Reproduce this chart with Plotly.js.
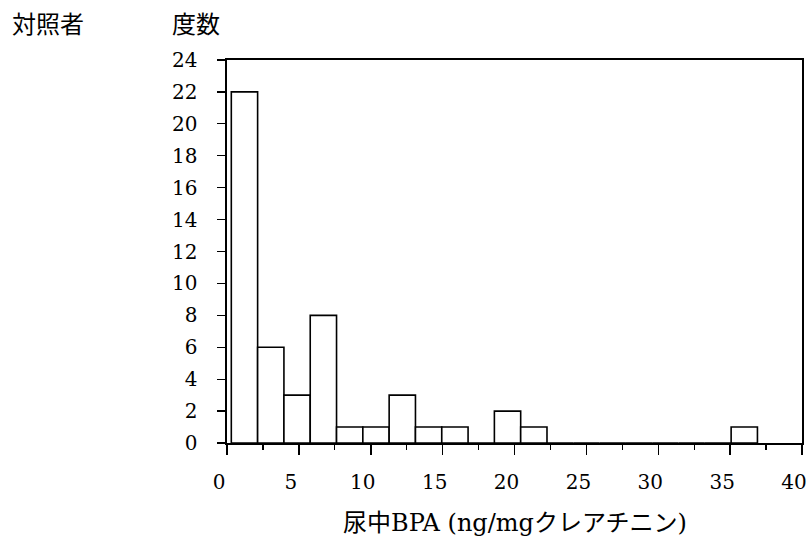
<!DOCTYPE html>
<html>
<head>
<meta charset="utf-8">
<script src="https://cdn.plot.ly/plotly-3.0.1.min.js"></script>
<style>html,body{margin:0;padding:0;background:#fff;}#chart{width:811px;height:551px;}</style>
</head>
<body>
<div id="chart"></div>
<script>
// Histogram of urinary BPA among controls (対照者)
const counts = [22, 6, 3, 8, 1, 1, 3, 1, 1, 0, 2, 1, 0, 0, 0, 0, 0, 0, 0, 1];
const binStart = 0.3;
const binWidth = 1.83;
const xTickVals = [0, 5, 10, 15, 20, 25, 30, 35, 40];
const yTickVals = [0, 2, 4, 6, 8, 10, 12, 14, 16, 18, 20, 22, 24];
const groupLabel = "対照者";
const yLabel = "度数";
const xLabel = "尿中BPA (ng/mgクレアチニン)";

const centers = counts.map((c, i) => binStart + binWidth * (i + 0.5));

const serif = "DejaVu Serif, Liberation Serif, Noto Sans CJK JP, serif";
const gothic = "Noto Sans CJK JP, sans-serif";

const bars = {
  type: "bar",
  x: centers,
  y: counts,
  width: counts.map(() => binWidth),
  marker: {color: "#ffffff", line: {color: "#000000", width: 1.6}},
  hoverinfo: "skip"
};

const layout = {
  width: 811, height: 551,
  margin: {l: 227, r: 9, t: 60, b: 108, pad: 0},
  paper_bgcolor: "#ffffff", plot_bgcolor: "#ffffff",
  showlegend: false,
  bargap: 0,
  xaxis: {
    range: [0, 40], tickvals: xTickVals, ticktext: xTickVals.map(String),
    ticks: "outside", ticklen: 10, tickwidth: 1.5, tickcolor: "#000",
    minor: {dtick: 2.5, tick0: 0, ticks: "outside", ticklen: 5, tickwidth: 1.2, tickcolor: "#000", showgrid: false},
    showline: true, linecolor: "#000", linewidth: 1.6, mirror: true,
    showgrid: false, zeroline: false, fixedrange: true,
    tickfont: {family: serif, size: 20, color: "#000"},
    ticklabelstandoff: 10,
    ticklabelshift: -8,
    ticklabeloverflow: "allow"
  },
  yaxis: {
    range: [0, 24], tickvals: yTickVals, ticktext: yTickVals.map(String),
    ticks: "outside", ticklen: 8, tickwidth: 1.2, tickcolor: "#000",
    showline: true, linecolor: "#000", linewidth: 1.6, mirror: true,
    showgrid: false, zeroline: false, fixedrange: true,
    tickfont: {family: serif, size: 20, color: "#000"},
    ticklabelstandoff: 16
  },
  annotations: [
    {text: groupLabel, xref: "paper", yref: "paper", x: -0.377, y: 1.0, yshift: 38,
     xanchor: "left", yanchor: "middle", showarrow: false,
     font: {family: gothic, size: 24, color: "#000"}},
    {text: yLabel, xref: "paper", yref: "paper", x: -0.099, y: 1.0, yshift: 38,
     xanchor: "left", yanchor: "middle", showarrow: false,
     font: {family: gothic, size: 24, color: "#000"}},
    {text: xLabel, xref: "paper", yref: "paper", x: 0.5, y: 0, yshift: -80,
     xanchor: "center", yanchor: "middle", showarrow: false,
     font: {family: serif, size: 24, color: "#000"}}
  ]
};

Plotly.newPlot("chart", [bars], layout, {displayModeBar: false, staticPlot: true});
</script>
</body>
</html>
